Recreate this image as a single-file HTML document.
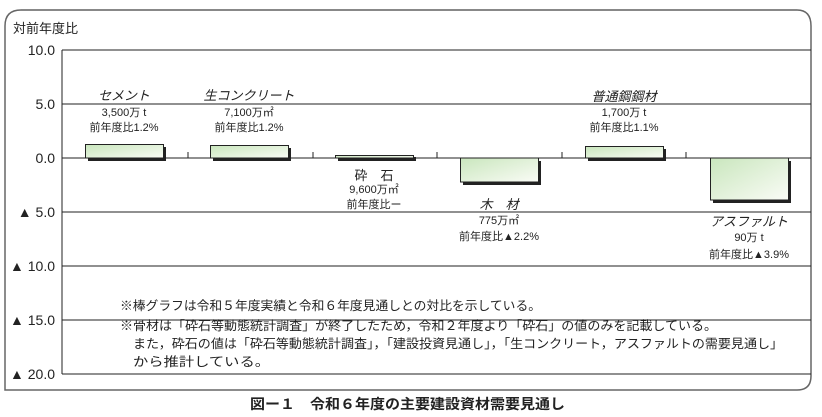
<!DOCTYPE html>
<html><head><meta charset="utf-8"><style>
html,body{margin:0;padding:0;background:#fff;}
svg{display:block;}
text{font-family:"Liberation Sans","Noto Sans CJK JP",sans-serif;fill:#222;}
</style></head><body>
<svg width="822" height="417" viewBox="0 0 822 417" xmlns="http://www.w3.org/2000/svg">
<defs>
<linearGradient id="g" x1="0" y1="0" x2="1" y2="1">
<stop offset="0" stop-color="#c9e6bd"/><stop offset="1" stop-color="#fafcf6"/>
</linearGradient>
</defs>
<path d="M5,390 L5,26 Q5,10 21,10 L797,10 Q811,10 811,26 L811,376 Q811,390 797,390 Z" fill="none" stroke="#666" stroke-width="1.5"/>
<path d="M21,10 L797,10" stroke="#888" stroke-width="2"/>
<text x="13" y="33" font-size="13">対前年度比</text>
<g stroke="#222" stroke-width="1">
<line x1="62" y1="50" x2="811" y2="50"/>
<line x1="62" y1="104" x2="811" y2="104"/>
<line x1="62" y1="158" x2="811" y2="158"/>
<line x1="62" y1="212" x2="811" y2="212"/>
<line x1="62" y1="266" x2="811" y2="266"/>
<line x1="62" y1="320" x2="811" y2="320"/>
<line x1="62" y1="374" x2="811" y2="374"/>
<line x1="62" y1="50" x2="62" y2="374"/>
<line x1="188" y1="152" x2="188" y2="158"/>
<line x1="313" y1="152" x2="313" y2="158"/>
<line x1="437" y1="152" x2="437" y2="158"/>
<line x1="562" y1="152" x2="562" y2="158"/>
<line x1="686" y1="152" x2="686" y2="158"/>
</g>
<g font-size="14" text-anchor="end">
<text x="55" y="55">10.0</text>
<text x="55" y="109">5.0</text>
<text x="55" y="163">0.0</text>
<text x="55" y="217">▲ 5.0</text>
<text x="55" y="271">▲ 10.0</text>
<text x="55" y="325">▲ 15.0</text>
<text x="55" y="379">▲ 20.0</text>
</g>
<g fill="#222">
<rect x="88" y="147" width="78" height="14"/>
<rect x="213" y="148" width="78" height="13"/>
<rect x="338" y="157" width="78" height="4"/>
<rect x="463" y="161" width="78" height="24"/>
<rect x="588" y="149" width="78" height="12"/>
<rect x="713" y="161" width="78" height="42"/>
</g>
<g fill="url(#g)" stroke="#222" stroke-width="1">
<rect x="85.5" y="144.5" width="78" height="13.5"/>
<rect x="210.5" y="145.5" width="78" height="12.5"/>
<rect x="335.5" y="155.5" width="78" height="2.5"/>
<rect x="460.5" y="158" width="78" height="24"/>
<rect x="585.5" y="146.5" width="78" height="11.5"/>
<rect x="710.5" y="158" width="78" height="42"/>
</g>
<g text-anchor="middle">
<text x="124" y="100" font-size="13" font-style="italic">セメント</text>
<text x="124" y="116" font-size="11">3,500万 t</text>
<text x="124" y="131" font-size="11">前年度比1.2%</text>
<text x="249" y="100" font-size="13" font-style="italic">生コンクリート</text>
<text x="249" y="116" font-size="11">7,100万㎡</text>
<text x="249" y="131" font-size="11">前年度比1.2%</text>
<text x="374" y="180" font-size="13">砕　石</text>
<text x="374" y="193" font-size="11">9,600万㎡</text>
<text x="374" y="208" font-size="11">前年度比ー</text>
<text x="499" y="209" font-size="13" font-style="italic">木　材</text>
<text x="499" y="224" font-size="11">775万㎡</text>
<text x="499" y="240" font-size="11">前年度比▲2.2%</text>
<text x="624" y="101" font-size="13" font-style="italic">普通鋼鋼材</text>
<text x="624" y="116" font-size="11">1,700万 t</text>
<text x="624" y="131" font-size="11">前年度比1.1%</text>
<text x="749" y="226" font-size="13" font-style="italic">アスファルト</text>
<text x="749" y="241" font-size="11">90万 t</text>
<text x="749" y="258" font-size="11">前年度比▲3.9%</text>
</g>
<g font-size="12.5">
<text x="120" y="310" textLength="421" lengthAdjust="spacingAndGlyphs">※棒グラフは令和５年度実績と令和６年度見通しとの対比を示している。</text>
<text x="120" y="330" textLength="597" lengthAdjust="spacingAndGlyphs">※骨材は「砕石等動態統計調査」が終了したため，令和２年度より「砕石」の値のみを記載している。</text>
<text x="133" y="348" textLength="650" lengthAdjust="spacingAndGlyphs">また，砕石の値は「砕石等動態統計調査」，「建設投資見通し」，「生コンクリート，アスファルトの需要見通し」</text>
<text x="133" y="366" textLength="137" lengthAdjust="spacingAndGlyphs">から推計している。</text>
</g>
<text x="250" y="409" font-size="14" font-weight="bold" textLength="315" lengthAdjust="spacingAndGlyphs">図ー１　令和６年度の主要建設資材需要見通し</text>
</svg>
</body></html>
